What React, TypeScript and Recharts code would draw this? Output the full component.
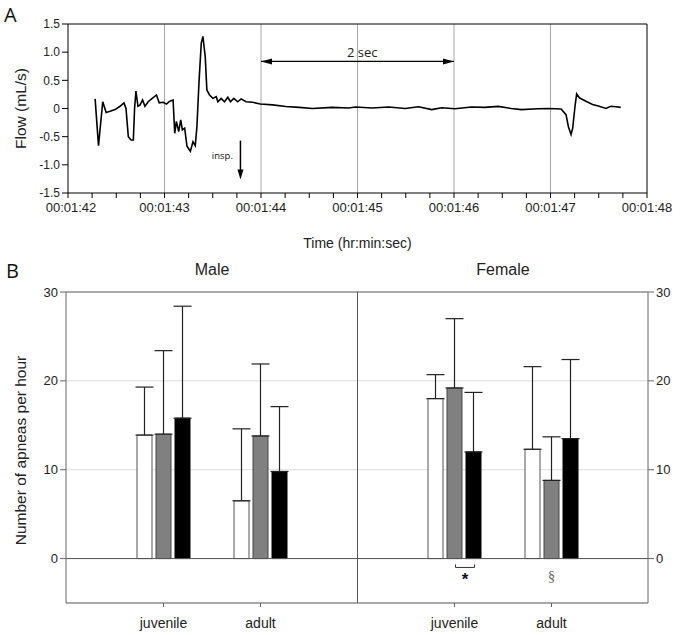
import React from "react";
import {
  LineChart,
  Line,
  XAxis,
  YAxis,
  ReferenceLine,
  ReferenceDot,
  BarChart,
  Bar,
  ErrorBar,
  CartesianGrid,
  Label,
} from "recharts";

// ---------- Panel A data ----------
const flowTime = [
  0.281, 0.316, 0.36, 0.395, 0.436, 0.488, 0.539, 0.58, 0.601, 0.625, 0.653, 0.677, 0.69, 0.704,
  0.725, 0.745, 0.773, 0.797, 0.831, 0.866, 0.917, 0.945, 0.986, 1.02, 1.055, 1.089, 1.106, 1.123,
  1.147, 1.168, 1.185, 1.209, 1.233, 1.268, 1.295, 1.319, 1.336, 1.357, 1.381, 1.398, 1.422, 1.439,
  1.467, 1.501, 1.536, 1.553, 1.587, 1.622, 1.656, 1.684, 1.718, 1.759, 1.794, 1.845, 1.914, 1.993,
  2.12, 2.257, 2.395, 2.532, 2.738, 2.91, 2.979, 3.151, 3.323, 3.495, 3.632, 3.769, 3.872, 4.01,
  4.182, 4.319, 4.457, 4.594, 4.697, 4.869, 4.983, 5.11, 5.161, 5.185, 5.213, 5.23, 5.254, 5.271,
  5.299, 5.367, 5.436, 5.505, 5.574, 5.625, 5.677, 5.728,
];
const flowValue = [
  0.17, -0.66, 0.12, -0.07, -0.05, -0.02, 0.04, 0.1, 0.0, -0.5, -0.56, -0.56, 0.0, 0.31,
  0.04, 0.06, 0.15, 0.04, 0.12, 0.17, 0.24, 0.1, 0.11, 0.08, 0.13, 0.15, -0.44, -0.23,
  -0.41, -0.2, -0.38, -0.35, -0.67, -0.76, -0.59, -0.66, -0.32, 0.45, 1.16, 1.28, 0.92, 0.33,
  0.24, 0.18, 0.21, 0.12, 0.18, 0.12, 0.2, 0.12, 0.18, 0.12, 0.17, 0.12, 0.11, 0.08,
  0.065, 0.035, 0.02, 0.0, 0.02, 0.01, 0.026, 0.008, 0.026, 0.0, 0.03, -0.02, 0.014, -0.005,
  0.026, 0.02, 0.038, 0.0, -0.02, -0.005, 0.0, -0.01, -0.11, -0.32, -0.46, -0.35, 0.04, 0.26,
  0.19, 0.13, 0.07, 0.04, 0.0, 0.04, 0.03, 0.02,
];
const timeTicks = [
  0, 0.25, 0.5, 0.75, 1, 1.25, 1.5, 1.75, 2, 2.25, 2.5, 2.75, 3, 3.25, 3.5, 3.75, 4, 4.25, 4.5,
  4.75, 5, 5.25, 5.5, 5.75, 6,
];
const timeLabels = ["00:01:42", "00:01:43", "00:01:44", "00:01:45", "00:01:46", "00:01:47", "00:01:48"];
const secondLines = [1, 2, 3, 4, 5];
const flowTicks = [-1.5, -1, -0.5, 0, 0.5, 1, 1.5];

// ---------- Panel B data ----------
const groupKeys = ["mj", "ma", "div", "fj", "fa"];
const groupLabels = ["juvenile", "adult", "", "juvenile", "adult"];
const whiteMean = [13.9, 6.5, null, 18.0, 12.3];
const whiteErr = [5.4, 8.1, null, 2.7, 9.3];
const grayMean = [14.0, 13.8, null, 19.2, 8.8];
const grayErr = [9.4, 8.1, null, 7.8, 4.9];
const blackMean = [15.8, 9.8, null, 12.0, 13.5];
const blackErr = [12.6, 7.3, null, 6.7, 8.9];
const countTicks = [0, 10, 20, 30];

const flowData = flowTime.map((t, i) => ({ t, v: flowValue[i] }));
const barData = groupKeys.map((k, i) => ({
  key: k,
  label: groupLabels[i],
  white: whiteMean[i],
  gray: grayMean[i],
  black: blackMean[i],
  whiteE: whiteErr[i] == null ? undefined : [0, whiteErr[i]],
  grayE: grayErr[i] == null ? undefined : [0, grayErr[i]],
  blackE: blackErr[i] == null ? undefined : [0, blackErr[i]],
}));

const SANS = "'Liberation Sans', Arial, sans-serif";
const OPEN = "'Open Sans', sans-serif";

const TimeTick = (props: any) => {
  const { x, y, payload } = props;
  const v = payload.value;
  if (!Number.isInteger(v)) return <g />;
  return (
    <text x={x + (v === 0 ? 3 : 0)} y={y} dy={11.5} textAnchor="middle" fontSize={13} fontFamily={SANS} fill="#222">
      {timeLabels[v]}
    </text>
  );
};

const GroupTick = (props: any) => {
  const { x, y, payload } = props;
  const idx = groupKeys.indexOf(payload.value);
  const lab = groupLabels[idx];
  if (!lab) return <g />;
  return (
    <g>
      <line x1={x} y1={y} x2={x} y2={y + 4} stroke="#666" strokeWidth={1} />
      <text x={x} y={y + 25} textAnchor="middle" fontSize={14} fontFamily={SANS} fill="#222">
        {lab}
      </text>
    </g>
  );
};

const yTitle = (text: string, x: number, shift: number) => (props: any) => {
  const vb = props.viewBox || { y: 0, height: 0 };
  const cy = vb.y + vb.height / 2 + shift;
  return (
    <text
      x={x}
      y={cy}
      transform={`rotate(-90 ${x} ${cy})`}
      textAnchor="middle"
      fontSize={15.5}
      fontFamily={SANS}
      fill="#222"
    >
      {text}
    </text>
  );
};

const xTitle = (props: any) => {
  const vb = props.viewBox || { x: 0, y: 0, width: 0 };
  return (
    <text x={vb.x + vb.width / 2} y={vb.y + 55} textAnchor="middle" fontSize={14} fontFamily={SANS} fill="#222">
      Time (hr:min:sec)
    </text>
  );
};

const head = (dir: "left" | "right" | "down") => (p: any) => {
  const { cx, cy } = p;
  let pts = "";
  if (dir === "left") pts = `${cx},${cy} ${cx + 11},${cy - 3} ${cx + 11},${cy + 3}`;
  if (dir === "right") pts = `${cx},${cy} ${cx - 11},${cy - 3} ${cx - 11},${cy + 3}`;
  if (dir === "down") pts = `${cx},${cy} ${cx - 3},${cy - 10} ${cx + 3},${cy - 10}`;
  return <polygon points={pts} fill="#000" />;
};

const txt = (s: string, size: number, family: string, color = "#222", weight = 400) => (p: any) => (
  <text
    x={p.cx}
    y={p.cy}
    textAnchor="middle"
    dominantBaseline="central"
    fontSize={size}
    fontFamily={family}
    fontWeight={weight}
    fill={color}
  >
    {s}
  </text>
);

const bracket = (p: any) => {
  const { cx, cy } = p;
  return (
    <path d={`M${cx + 1},${cy - 3} L${cx + 1},${cy} L${cx + 20},${cy} L${cx + 20},${cy - 3}`} fill="none" stroke="#333" strokeWidth={1} />
  );
};

export default function App() {
  return (
    <div style={{ position: "absolute", left: 0, top: 0, width: 685, height: 635, background: "#fff" }}>
      {/* Panel A */}
      <div style={{ position: "absolute", left: 0, top: 0 }}>
        <LineChart width={685} height={255} data={flowData} margin={{ top: 24, right: 38, left: 0, bottom: 30 }}>
          <XAxis
            dataKey="t"
            type="number"
            domain={[0, 6]}
            ticks={timeTicks}
            interval={0}
            allowDataOverflow
            height={32}
            tick={<TimeTick />}
            tickSize={5}
            axisLine={{ stroke: "#000" }}
            tickLine={{ stroke: "#000" }}
          >
            <Label content={xTitle} />
          </XAxis>
          <YAxis
            type="number"
            domain={[-1.5, 1.5]}
            ticks={flowTicks}
            interval={0}
            width={68}
            allowDataOverflow
            tickFormatter={(v: number) => (v === 0 ? "0" : v.toFixed(1))}
            tick={{ fontSize: 12, fontFamily: SANS, fill: "#222" }}
            tickSize={6}
            axisLine={{ stroke: "#000" }}
            tickLine={{ stroke: "#000" }}
          >
            <Label content={yTitle("Flow (mL/s)", 26, 0)} />
          </YAxis>
          {secondLines.map((s) => (
            <ReferenceLine key={s} x={s} stroke="#a8a8a8" strokeWidth={1} />
          ))}
          <ReferenceLine y={1.5} stroke="#000" strokeWidth={1} />
          <ReferenceLine x={6} stroke="#000" strokeWidth={1} />
          <ReferenceLine segment={[{ x: 2, y: 0.835 }, { x: 4, y: 0.835 }]} stroke="#000" strokeWidth={1.3} />
          <ReferenceDot x={2} y={0.835} shape={head("left")} />
          <ReferenceDot x={4} y={0.835} shape={head("right")} />
          <ReferenceDot x={3.05} y={1.0} shape={txt("2 sec", 13, OPEN)} />
          <ReferenceLine segment={[{ x: 1.787, y: -0.57 }, { x: 1.787, y: -1.1 }]} stroke="#000" strokeWidth={1.5} />
          <ReferenceDot x={1.787} y={-1.262} shape={head("down")} />
          <ReferenceDot x={1.6} y={-0.84} shape={txt("insp.", 9.5, OPEN, "#111")} />
          <Line
            dataKey="v"
            type="linear"
            stroke="#000"
            strokeWidth={1.6}
            dot={false}
            isAnimationActive={false}
          />
        </LineChart>
      </div>

      {/* Panel B */}
      <div style={{ position: "absolute", left: 0, top: 260 }}>
        <BarChart
          width={685}
          height={375}
          data={barData}
          margin={{ top: 32, right: 0, left: 0, bottom: 0 }}
          barSize={15}
          barGap={4}
        >
          <CartesianGrid vertical={false} stroke="#dcdcdc" />
          <XAxis
            dataKey="key"
            type="category"
            padding={{ left: 49, right: 48 }}
            height={32}
            interval={0}
            tickLine={false}
            tickSize={0}
            tickMargin={0}
            tick={<GroupTick />}
            axisLine={{ stroke: "#666" }}
          />
          <YAxis
            type="number"
            domain={[-5, 30]}
            ticks={countTicks}
            interval={0}
            width={66}
            allowDataOverflow
            tick={{ fontSize: 13, fontFamily: SANS, fill: "#222" }}
            tickSize={6}
            axisLine={{ stroke: "#666" }}
            tickLine={{ stroke: "#666" }}
          >
            <Label content={yTitle("Number of apneas per hour", 25.5, 3)} />
          </YAxis>
          <YAxis
            yAxisId="r"
            orientation="right"
            type="number"
            domain={[-5, 30]}
            ticks={countTicks}
            interval={0}
            width={37}
            allowDataOverflow
            tick={{ fontSize: 13, fontFamily: SANS, fill: "#222" }}
            tickSize={6}
            axisLine={{ stroke: "#666" }}
            tickLine={{ stroke: "#666" }}
          />
          <ReferenceLine y={30} stroke="#666" strokeWidth={1} />
          <ReferenceLine y={0} stroke="#555" strokeWidth={1} />
          <ReferenceLine x="div" stroke="#555" strokeWidth={1} />
          <Bar dataKey="white" fill="#ffffff" stroke="#555" strokeWidth={1} isAnimationActive={false}>
            <ErrorBar dataKey="whiteE" width={9} stroke="#222" strokeWidth={1.2} direction="y" />
          </Bar>
          <Bar dataKey="gray" fill="#808080" stroke="#444" strokeWidth={1} isAnimationActive={false}>
            <ErrorBar dataKey="grayE" width={9} stroke="#222" strokeWidth={1.2} direction="y" />
          </Bar>
          <Bar dataKey="black" fill="#000000" stroke="#000" strokeWidth={1} isAnimationActive={false}>
            <ErrorBar dataKey="blackE" width={9} stroke="#222" strokeWidth={1.2} direction="y" />
          </Bar>
          <ReferenceDot x="fj" y={-1.0} shape={bracket} />
          <ReferenceDot
            x="fj"
            y={-2.0}
            shape={(p: any) => txt("*", 17, SANS, "#111", 700)({ cx: p.cx + 10.5, cy: p.cy + 3 })}
          />
          <ReferenceDot x="fa" y={-2.0} shape={txt("§", 15, "'Liberation Serif', serif", "#666")} />
        </BarChart>
      </div>

      {/* Panel letters and group titles */}
      <svg
        width={685}
        height={635}
        style={{ position: "absolute", left: 0, top: 0, pointerEvents: "none" }}
      >
        <text x={4} y={22} fontSize={20} fontFamily={OPEN} fill="#111">A</text>
        <text x={6} y={278} fontSize={20} fontFamily={OPEN} fill="#111">B</text>
        <text x={212} y={275} textAnchor="middle" fontSize={16} fontFamily={SANS} fill="#222">Male</text>
        <text x={503} y={275} textAnchor="middle" fontSize={16} fontFamily={SANS} fill="#222">Female</text>
      </svg>
    </div>
  );
}
